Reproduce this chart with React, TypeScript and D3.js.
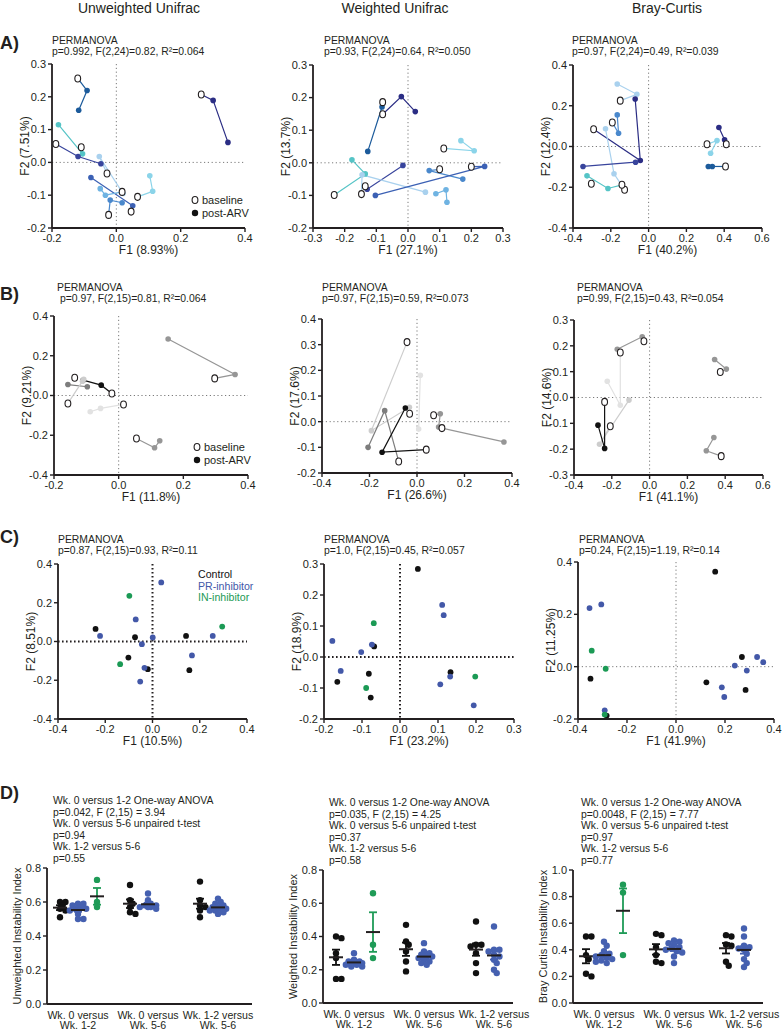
import React from "react";
import * as d3 from "d3";

const FONT = "'Liberation Sans', Arial, Helvetica, sans-serif";
const INK = "#231f20";

const C = {
  navy: "#2b2d84", indigo: "#38449c", dblue: "#1c5b9b", royal: "#3b60b4", steel: "#4a88cc",
  sky: "#6fb3e2", lblue: "#a9d1ee", cyan: "#8bd4e9", teal: "#55c4c6",
  black: "#111111", g1: "#7d7d7d", g2: "#969696", g3: "#b4b4b4", g4: "#cdcdcd", g5: "#e2e2e2",
  pr: "#4358a8", inh: "#1b9a55",
};

type Pt = number[]; // [F1, F2, open(1)/filled(0)]
type Track = { c: string; p: Pt[] };

// ---------- Row A: baseline / post-ARV trajectories ----------
const A_UNW: Track[] = [
  { c: C.dblue, p: [[-0.120, 0.256, 1], [-0.091, 0.219, 0], [-0.117, 0.159, 0]] },
  { c: C.navy, p: [[0.264, 0.207, 1], [0.301, 0.189, 0], [0.347, 0.061, 0]] },
  { c: C.teal, p: [[-0.109, 0.046, 1], [-0.105, 0.026, 0], [-0.180, 0.115, 0]] },
  { c: C.indigo, p: [[-0.188, 0.056, 1], [-0.119, 0.018, 0], [-0.048, -0.004, 0]] },
  { c: C.lblue, p: [[-0.029, -0.034, 1], [-0.053, 0.018, 0], [0.021, -0.095, 0]] },
  { c: C.cyan, p: [[0.066, -0.105, 1], [0.113, -0.088, 0], [0.104, -0.041, 0]] },
  { c: C.royal, p: [[0.046, -0.150, 1], [0.051, -0.132, 0], [-0.079, -0.046, 0]] },
  { c: C.steel, p: [[-0.024, -0.160, 1], [-0.019, -0.115, 0], [0.018, -0.123, 0]] },
  { c: C.sky, p: [[0.018, -0.090, 1], [-0.034, -0.100, 0], [-0.050, -0.080, 0]] },
];
const A_WU: Track[] = [
  { c: C.navy, p: [[-0.080, 0.149, 1], [-0.021, 0.203, 0], [0.023, 0.157, 0]] },
  { c: C.dblue, p: [[-0.080, 0.186, 1], [-0.082, 0.171, 0], [-0.127, 0.035, 0]] },
  { c: C.cyan, p: [[0.113, 0.044, 1], [0.209, 0.037, 0], [0.167, 0.068, 0]] },
  { c: C.teal, p: [[-0.233, -0.099, 1], [-0.135, -0.034, 0], [-0.177, 0.009, 0]] },
  { c: C.indigo, p: [[-0.135, -0.072, 1], [-0.129, -0.081, 0], [-0.016, -0.008, 0]] },
  { c: C.lblue, p: [[-0.147, -0.096, 1], [-0.145, -0.037, 0], [0.055, -0.090, 0]] },
  { c: C.steel, p: [[0.100, -0.020, 1], [0.067, -0.024, 0], [0.173, -0.050, 0]] },
  { c: C.royal, p: [[0.200, -0.012, 1], [0.242, -0.011, 0], [-0.103, -0.100, 0]] },
  { c: C.sky, p: [[0.088, -0.095, 0], [0.120, -0.083, 0], [0.123, -0.121, 0]] },
];
const A_BC: Track[] = [
  { c: C.lblue, p: [[-0.150, 0.225, 1], [-0.062, 0.256, 0], [-0.166, 0.307, 0]] },
  { c: C.navy, p: [[-0.291, 0.085, 1], [-0.044, -0.069, 0], [-0.071, 0.233, 0]] },
  { c: C.steel, p: [[-0.192, 0.118, 1], [-0.159, 0.065, 0], [-0.166, 0.155, 0]] },
  { c: C.lblue, p: [[-0.127, -0.212, 1], [-0.183, -0.134, 0], [-0.228, 0.087, 0]] },
  { c: C.teal, p: [[-0.141, -0.188, 1], [-0.215, -0.206, 0], [-0.326, -0.144, 0]] },
  { c: C.indigo, p: [[-0.303, -0.183, 1]] },
  { c: C.indigo, p: [[-0.347, -0.098, 0], [-0.069, -0.077, 0]] },
  { c: C.navy, p: [[0.411, 0.011, 1], [0.402, 0.033, 0], [0.372, 0.093, 0]] },
  { c: C.cyan, p: [[0.309, 0.011, 1], [0.362, 0.029, 0], [0.328, -0.033, 0]] },
  { c: C.dblue, p: [[0.407, -0.098, 1], [0.337, -0.098, 0], [0.316, -0.098, 0]] },
];

// ---------- Row B ----------
const B_UNW: Track[] = [
  { c: C.g2, p: [[0.297, 0.086, 1], [0.360, 0.106, 0], [0.153, 0.284, 0]] },
  { c: C.g2, p: [[0.055, -0.216, 1], [0.111, -0.263, 0], [0.127, -0.228, 0]] },
  { c: C.g5, p: [[0.015, -0.045, 1], [-0.056, -0.065, 0], [-0.088, -0.082, 0]] },
  { c: C.black, p: [[-0.021, 0.010, 1], [-0.054, 0.052, 0], [-0.110, 0.077, 0]] },
  { c: C.g1, p: [[-0.136, 0.089, 1]] },
  { c: C.g1, p: [[-0.157, 0.055, 0], [-0.097, 0.044, 0]] },
  { c: C.g4, p: [[-0.157, -0.040, 1], [-0.112, 0.072, 0], [-0.108, 0.082, 0]] },
];
const B_WU: Track[] = [
  { c: C.g4, p: [[-0.042, 0.310, 1], [-0.192, -0.035, 0], [-0.032, 0.056, 0]] },
  { c: C.g5, p: [[-0.031, 0.031, 1]] },
  { c: C.g5, p: [[0.014, 0.181, 0], [0.007, -0.029, 0]] },
  { c: C.g1, p: [[-0.077, -0.155, 1], [-0.136, 0.043, 0], [-0.206, -0.100, 0]] },
  { c: C.black, p: [[0.039, -0.109, 1], [-0.147, -0.119, 0], [-0.049, 0.053, 0]] },
  { c: C.g2, p: [[0.070, 0.025, 1], [0.098, 0.031, 0], [0.091, -0.021, 0]] },
  { c: C.g2, p: [[0.105, -0.025, 1], [0.366, -0.079, 0]] },
];
const B_BC: Track[] = [
  { c: C.g2, p: [[-0.030, 0.218, 1], [-0.039, 0.235, 0], [-0.171, 0.187, 0]] },
  { c: C.g5, p: [[-0.155, 0.174, 1], [-0.155, -0.030, 0], [-0.224, 0.063, 0]] },
  { c: C.g4, p: [[-0.208, -0.111, 1], [-0.265, -0.181, 0], [-0.109, -0.010, 0]] },
  { c: C.black, p: [[-0.238, -0.017, 1], [-0.238, -0.197, 0], [-0.273, -0.107, 0]] },
  { c: C.g2, p: [[0.374, 0.099, 1], [0.406, 0.110, 0], [0.344, 0.147, 0]] },
  { c: C.g2, p: [[0.379, -0.227, 1], [0.300, -0.206, 0], [0.340, -0.155, 0]] },
];

// ---------- Row C: treatment groups ----------
const C1_CTRL = [[-0.241, 0.065], [-0.074, 0.022], [0.142, 0.029], [-0.102, -0.083], [-0.020, -0.143], [0.156, -0.148]];
const C1_PR = [[0.037, 0.305], [-0.071, 0.114], [-0.222, 0.029], [0.001, 0.021], [-0.045, -0.014], [0.255, 0.029], [0.167, -0.072], [-0.034, -0.136], [-0.052, -0.207]];
const C1_IN = [[-0.098, 0.236], [0.295, 0.077], [-0.137, -0.117]];
const C2_CTRL = [[0.047, 0.284], [-0.068, 0.034], [-0.082, -0.054], [-0.165, -0.080], [-0.077, -0.131], [0.133, -0.049]];
const C2_PR = [[0.111, 0.168], [0.115, 0.135], [-0.178, 0.052], [-0.074, 0.040], [-0.102, 0.016], [-0.156, -0.045], [0.106, -0.088], [0.132, -0.063], [0.194, -0.156]];
const C2_IN = [[-0.069, 0.109], [-0.089, -0.100], [0.198, -0.063]];
const C3_CTRL = [[0.160, 0.363], [0.269, 0.037], [0.124, -0.060], [0.284, -0.089], [-0.349, -0.046], [-0.283, -0.187]];
const C3_PR = [[-0.353, 0.224], [-0.305, 0.238], [0.240, 0.004], [0.331, 0.037], [0.356, 0.017], [0.289, -0.015], [0.187, -0.079], [0.197, -0.116], [-0.291, -0.167]];
const C3_IN = [[-0.344, 0.061], [-0.287, -0.008], [-0.291, -0.183]];

// ---------- Row D: instability indices (per comparison: Wk0 v 1-2, Wk0 v 5-6, Wk1-2 v 5-6) ----------
const D_CATS = ["Wk. 0 versus|Wk. 1-2", "Wk. 0 versus|Wk. 5-6", "Wk. 1-2 versus|Wk. 5-6"];
const UNW_CTRL = [[0.60, 0.60, 0.58, 0.56, 0.55, 0.51], [0.70, 0.61, 0.59, 0.57, 0.54, 0.53], [0.72, 0.61, 0.58, 0.57, 0.55, 0.51]];
const UNW_PR = [[0.59, 0.59, 0.58, 0.57, 0.56, 0.56, 0.55, 0.53, 0.50, 0.50], [0.65, 0.61, 0.59, 0.58, 0.58, 0.57, 0.57, 0.57, 0.56], [0.62, 0.60, 0.59, 0.58, 0.57, 0.57, 0.56, 0.56, 0.55, 0.55, 0.54, 0.53]];
const UNW_IN = [0.73, 0.60, 0.57];
const WU_CTRL = [[0.40, 0.39, 0.30, 0.27, 0.145, 0.145], [0.47, 0.37, 0.35, 0.31, 0.25, 0.19], [0.49, 0.35, 0.35, 0.34, 0.30, 0.24, 0.18]];
const WU_PR = [[0.30, 0.26, 0.25, 0.25, 0.24, 0.24, 0.23, 0.23, 0.22, 0.22], [0.36, 0.31, 0.30, 0.29, 0.28, 0.28, 0.27, 0.26, 0.25, 0.24, 0.23], [0.46, 0.32, 0.32, 0.31, 0.29, 0.28, 0.26, 0.24, 0.20, 0.18]];
const WU_IN = [0.66, 0.35, 0.27];
const BC_CTRL = [[0.50, 0.50, 0.36, 0.33, 0.22, 0.20], [0.52, 0.51, 0.42, 0.36, 0.31, 0.30], [0.51, 0.50, 0.44, 0.43, 0.31, 0.28]];
const BC_PR = [[0.46, 0.43, 0.39, 0.37, 0.36, 0.35, 0.34, 0.33, 0.32, 0.31, 0.30], [0.47, 0.46, 0.45, 0.44, 0.42, 0.41, 0.40, 0.39, 0.38, 0.35, 0.30], [0.56, 0.50, 0.43, 0.42, 0.41, 0.40, 0.37, 0.33, 0.30, 0.27]];
const BC_IN = [0.89, 0.83, 0.36];

const fmt = (v: number) => d3.format(".1f")(v).replace("\u2212", "-");

function Axes({ x, y, xTicks, yTicks, L, T, W, H, xLabel, yLabel }: any) {
  return (
    <g>
      <line x1={L} x2={L} y1={T} y2={T + H} stroke={INK} strokeWidth={1.8} />
      <line x1={L} x2={L + W} y1={T + H} y2={T + H} stroke={INK} strokeWidth={1.8} />
      {yTicks.map((t: number) => (
        <g key={"y" + t}>
          <line x1={L - 4} x2={L} y1={y(t)} y2={y(t)} stroke={INK} strokeWidth={1.4} />
          <text x={L - 6} y={y(t)} dy="0.35em" textAnchor="end" fontSize={11}>{fmt(t)}</text>
        </g>
      ))}
      {xTicks.map((t: number) => (
        <g key={"x" + t}>
          <line x1={x(t)} x2={x(t)} y1={T + H} y2={T + H + 4} stroke={INK} strokeWidth={1.4} />
          <text x={x(t)} y={T + H + 14} textAnchor="middle" fontSize={11}>{fmt(t)}</text>
        </g>
      ))}
      <text x={L + W / 2} y={T + H + 26} textAnchor="middle" fontSize={12}>{xLabel}</text>
      <text transform={`translate(${L - 23},${T + H / 2}) rotate(-90)`} textAnchor="middle" fontSize={12}>{yLabel}</text>
    </g>
  );
}

function Scatter(props: any) {
  const { L, T, W, H, xDom, yDom, xTicks, yTicks, xLabel, yLabel, stats, sx, sy, tracks = [], groups = [], bold = false } = props;
  const x = d3.scaleLinear().domain(xDom).range([L, L + W]);
  const y = d3.scaleLinear().domain(yDom).range([T + H, T]);
  const line = d3.line<number[]>().x((d) => x(d[0])).y((d) => y(d[1]));
  const zs = bold
    ? { stroke: INK, strokeWidth: 2, strokeDasharray: "1.6 2.4" }
    : { stroke: "#7a7a7a", strokeWidth: 1, strokeDasharray: "1.2 2.6" };
  const pts = (tracks as Track[]).flatMap((t) => t.p.map((p) => ({ p, c: t.c })));
  return (
    <g>
      <text x={sx} y={sy} fontSize={10.4}>PERMANOVA</text>
      <text x={sx} y={sy + 10.5} fontSize={10.4} style={{ whiteSpace: "pre" }}>{stats}</text>
      <line x1={x(0)} x2={x(0)} y1={T} y2={T + H} {...zs} />
      <line x1={L} x2={L + W} y1={y(0)} y2={y(0)} {...zs} />
      {(tracks as Track[]).map((t, i) =>
        t.p.length > 1 ? <path key={i} d={line(t.p) as string} fill="none" stroke={t.c} strokeWidth={1.2} /> : null
      )}
      {pts.filter((d) => !d.p[2]).map((d, i) => (
        <circle key={"f" + i} cx={x(d.p[0])} cy={y(d.p[1])} r={2.8} fill={d.c} />
      ))}
      {pts.filter((d) => d.p[2]).map((d, i) => (
        <ellipse key={"o" + i} cx={x(d.p[0])} cy={y(d.p[1])} rx={2.9} ry={3.5} fill="#fff" stroke={INK} strokeWidth={1.1} />
      ))}
      {groups.map((g: any, gi: number) =>
        g.pts.map((p: number[], i: number) => (
          <circle key={gi + "-" + i} cx={x(p[0])} cy={y(p[1])} r={2.9} fill={g.color} />
        ))
      )}
      <Axes x={x} y={y} xTicks={xTicks} yTicks={yTicks} L={L} T={T} W={W} H={H} xLabel={xLabel} yLabel={yLabel} />
    </g>
  );
}

// compact beeswarm: dots may overlap a little, spread limited to a narrow column
function swarm(vals: number[], y: (v: number) => number, r: number) {
  const placed: number[][] = [];
  const sorted = [...vals].sort((a, b) => b - a);
  const minD = r * 1.3;
  const step = r * 0.85;
  const cands = [0, 1, -1, 2, -2, 3, -3].map((k) => k * step);
  for (const v of sorted) {
    const py = y(v);
    let best = 0;
    let bestScore = -1;
    for (const cand of cands) {
      const d = placed.length ? Math.min(...placed.map(([px, qy]) => Math.hypot(px - cand, qy - py))) : 99;
      if (d >= minD) { best = cand; bestScore = 1e9; break; }
      if (d > bestScore) { bestScore = d; best = cand; }
    }
    placed.push([best, py]);
  }
  return placed;
}

function Instability(props: any) {
  const { L, T, W, H, yMax, yLabel, notes, nx, ctrl, pr, inh } = props;
  const y = d3.scaleLinear().domain([0, yMax]).range([T + H, T]);
  const xc = d3.scalePoint<string>().domain(D_CATS).range([L + 31, L + 171]);
  const yTicks = d3.range(0, yMax + 0.001, 0.2);
  const r = 3.2;
  const groups: { cx: number; vals: number[]; color: string }[] = [];
  D_CATS.forEach((cat, i) => {
    const c = xc(cat) as number;
    groups.push({ cx: c - 18, vals: ctrl[i], color: C.black });
    groups.push({ cx: c, vals: pr[i], color: "#4560b0" });
    if (i === 0) groups.push({ cx: c + 19, vals: inh, color: "#1f9b57" });
  });
  return (
    <g>
      {notes.map((n: string, i: number) => (
        <text key={i} x={nx} y={T - 64 + i * 11.5} fontSize={10.4}>{n}</text>
      ))}
      {groups.map((g, gi) => {
        const m = d3.mean(g.vals) as number;
        const sem = (d3.deviation(g.vals) as number) / Math.sqrt(g.vals.length);
        return (
          <g key={gi}>
            {swarm(g.vals, y, r).map(([dx, py], i) => (
              <circle key={i} cx={g.cx + dx} cy={py} r={r} fill={g.color} />
            ))}
            <line x1={g.cx} x2={g.cx} y1={y(m - sem)} y2={y(m + sem)} stroke={g.color} strokeWidth={1.8} />
            <line x1={g.cx - 4} x2={g.cx + 4} y1={y(m - sem)} y2={y(m - sem)} stroke={g.color} strokeWidth={1.8} />
            <line x1={g.cx - 4} x2={g.cx + 4} y1={y(m + sem)} y2={y(m + sem)} stroke={g.color} strokeWidth={1.8} />
            <line x1={g.cx - 7} x2={g.cx + 7} y1={y(m)} y2={y(m)} stroke={INK} strokeWidth={2} />
          </g>
        );
      })}
      <line x1={L} x2={L} y1={T} y2={T + H} stroke={INK} strokeWidth={1.8} />
      <line x1={L} x2={L + W} y1={T + H} y2={T + H} stroke={INK} strokeWidth={1.8} />
      {yTicks.map((t) => (
        <g key={t}>
          <line x1={L - 4} x2={L} y1={y(t)} y2={y(t)} stroke={INK} strokeWidth={1.4} />
          <text x={L - 6} y={y(t)} dy="0.35em" textAnchor="end" fontSize={11}>{fmt(t)}</text>
        </g>
      ))}
      {D_CATS.map((cat) => {
        const [a, b] = cat.split("|");
        return (
          <g key={cat}>
            <text x={xc(cat)} y={T + H + 15} textAnchor="middle" fontSize={10.6}>{a}</text>
            <text x={xc(cat)} y={T + H + 25} textAnchor="middle" fontSize={10.6}>{b}</text>
          </g>
        );
      })}
      <text transform={`translate(${L - 26},${T + H / 2}) rotate(-90)`} textAnchor="middle" fontSize={11}>{yLabel}</text>
    </g>
  );
}

function Legend({ x, y }: { x: number; y: number }) {
  return (
    <g fontSize={11}>
      <ellipse cx={x} cy={y} rx={2.9} ry={3.5} fill="#fff" stroke={INK} strokeWidth={1.1} />
      <text x={x + 7} y={y} dy="0.35em">baseline</text>
      <circle cx={x} cy={y + 13} r={3.2} fill={C.black} />
      <text x={x + 7} y={y + 13} dy="0.35em">post-ARV</text>
    </g>
  );
}

export default function App() {
  const t2 = [-0.2, -0.1, 0, 0.1, 0.2, 0.3];
  return (
    <svg width={784} height={1032} style={{ position: "absolute", left: 0, top: 0, background: "#fff" }}
      fontFamily={FONT} fill={INK}>
      <text x={139} y={12.5} textAnchor="middle" fontSize={14}>Unweighted Unifrac</text>
      <text x={395} y={12.5} textAnchor="middle" fontSize={14}>Weighted Unifrac</text>
      <text x={667} y={12.5} textAnchor="middle" fontSize={14}>Bray-Curtis</text>
      <text x={0} y={49} fontSize={18} fontWeight="bold">A)</text>
      <text x={0} y={300} fontSize={18} fontWeight="bold">B)</text>
      <text x={0} y={543} fontSize={18} fontWeight="bold">C)</text>
      <text x={0} y={799} fontSize={18} fontWeight="bold">D)</text>

      <Scatter L={52} T={64} W={193} H={164} xDom={[-0.2, 0.4]} yDom={[-0.2, 0.3]} xTicks={[-0.2, 0, 0.2, 0.4]} yTicks={t2}
        xLabel="F1 (8.93%)" yLabel="F2 (7.51%)" stats="p=0.992, F(2,24)=0.82, R²=0.064" sx={52} sy={44} tracks={A_UNW} />
      <Legend x={195} y={200} />
      <Scatter L={313} T={65} W={190} H={163} xDom={[-0.3, 0.3]} yDom={[-0.2, 0.3]} xTicks={[-0.3, -0.2, -0.1, 0, 0.1, 0.2, 0.3]} yTicks={t2}
        xLabel="F1 (27.1%)" yLabel="F2 (13.7%)" stats="p=0.93, F(2,24)=0.64, R²=0.050" sx={324} sy={44} tracks={A_WU} />
      <Scatter L={573} T={65} W={189} H={163} xDom={[-0.4, 0.6]} yDom={[-0.4, 0.4]} xTicks={[-0.4, -0.2, 0, 0.2, 0.4, 0.6]} yTicks={[-0.4, -0.2, 0, 0.2, 0.4]}
        xLabel="F1 (40.2%)" yLabel="F2 (12.4%)" stats="p=0.97, F(2,24)=0.49, R²=0.039" sx={572} sy={44} tracks={A_BC} />

      <Scatter L={54} T={316} W={194} H={159} xDom={[-0.2, 0.4]} yDom={[-0.4, 0.4]} xTicks={[-0.2, 0, 0.2, 0.4]} yTicks={[-0.4, -0.2, 0, 0.2, 0.4]}
        xLabel="F1 (11.8%)" yLabel="F2 (9.21%)" stats=" p=0.97, F(2,15)=0.81, R²=0.064" sx={57} sy={291} tracks={B_UNW} />
      <Legend x={197} y={447} />
      <Scatter L={322} T={319} W={190} H={154} xDom={[-0.4, 0.4]} yDom={[-0.2, 0.4]} xTicks={[-0.4, -0.2, 0, 0.2, 0.4]} yTicks={[-0.2, -0.1, 0, 0.1, 0.2, 0.3, 0.4]}
        xLabel="F1 (26.6%)" yLabel="F2 (17.6%)" stats="p=0.97, F(2,15)=0.59, R²=0.073" sx={322} sy={291} tracks={B_WU} />
      <Scatter L={574} T={320} W={189} H={155} xDom={[-0.4, 0.6]} yDom={[-0.3, 0.3]} xTicks={[-0.4, -0.2, 0, 0.2, 0.4, 0.6]} yTicks={[-0.3, -0.2, -0.1, 0, 0.1, 0.2, 0.3]}
        xLabel="F1 (41.1%)" yLabel="F2 (14.6%)" stats="p=0.99, F(2,15)=0.43, R²=0.054" sx={577} sy={291} tracks={B_BC} />

      <Scatter L={58} T={564} W={189} H={155} xDom={[-0.4, 0.4]} yDom={[-0.4, 0.4]} xTicks={[-0.4, -0.2, 0, 0.2, 0.4]} yTicks={[-0.4, -0.2, 0, 0.2, 0.4]}
        xLabel="F1 (10.5%)" yLabel="F2 (8.51%)" stats="p=0.87, F(2,15)=0.93, R²=0.11" sx={58} sy={543} bold
        groups={[{ color: C.black, pts: C1_CTRL }, { color: C.pr, pts: C1_PR }, { color: C.inh, pts: C1_IN }]} />
      <g fontSize={10.6}>
        <text x={198} y={578} fill={C.black}>Control</text>
        <text x={198} y={589.5} fill={C.pr}>PR-inhibitor</text>
        <text x={198} y={601} fill={C.inh}>IN-inhibitor</text>
      </g>
      <Scatter L={324} T={564} W={190} H={155} xDom={[-0.2, 0.3]} yDom={[-0.2, 0.3]} xTicks={[-0.2, -0.1, 0, 0.1, 0.2, 0.3]} yTicks={t2}
        xLabel="F1 (23.2%)" yLabel="F2 (18.9%)" stats="p=1.0, F(2,15)=0.45, R²=0.057" sx={324} sy={543} bold
        groups={[{ color: C.black, pts: C2_CTRL }, { color: C.pr, pts: C2_PR }, { color: C.inh, pts: C2_IN }]} />
      <Scatter L={578} T={562} W={196} H={157} xDom={[-0.4, 0.4]} yDom={[-0.2, 0.4]} xTicks={[-0.4, -0.2, 0, 0.2, 0.4]} yTicks={[-0.2, 0, 0.2, 0.4]}
        xLabel="F1 (41.9%)" yLabel="F2 (11.25%)" stats="p=0.24, F(2,15)=1.19, R²=0.14" sx={579} sy={543}
        groups={[{ color: C.black, pts: C3_CTRL }, { color: C.pr, pts: C3_PR }, { color: C.inh, pts: C3_IN }]} />

      <Instability L={47} T={868} W={205} H={136} yMax={0.8} yLabel="Unweighted Instability Index" nx={53}
        notes={["Wk. 0 versus 1-2 One-way ANOVA", "p=0.042, F (2,15) = 3.94", "Wk. 0 versus 5-6 unpaired t-test", "p=0.94", "Wk. 1-2 versus 5-6", "p=0.55"]}
        ctrl={UNW_CTRL} pr={UNW_PR} inh={UNW_IN} />
      <Instability L={323} T={870} W={190} H={133} yMax={0.8} yLabel="Weighted Instability Index" nx={329}
        notes={["Wk. 0 versus 1-2 One-way ANOVA", "p=0.035, F (2,15) = 4.25", "Wk. 0 versus 5-6 unpaired t-test", "p=0.37", "Wk. 1-2 versus 5-6", "p=0.58"]}
        ctrl={WU_CTRL} pr={WU_PR} inh={WU_IN} />
      <Instability L={573} T={870} W={190} H={133} yMax={1.0} yLabel="Bray Curtis Instability Index" nx={581}
        notes={["Wk. 0 versus 1-2 One-way ANOVA", "p=0.0048, F (2,15) = 7.77", "Wk. 0 versus 5-6 unpaired t-test", "p=0.97", "Wk. 1-2 versus 5-6", "p=0.77"]}
        ctrl={BC_CTRL} pr={BC_PR} inh={BC_IN} />
    </svg>
  );
}
